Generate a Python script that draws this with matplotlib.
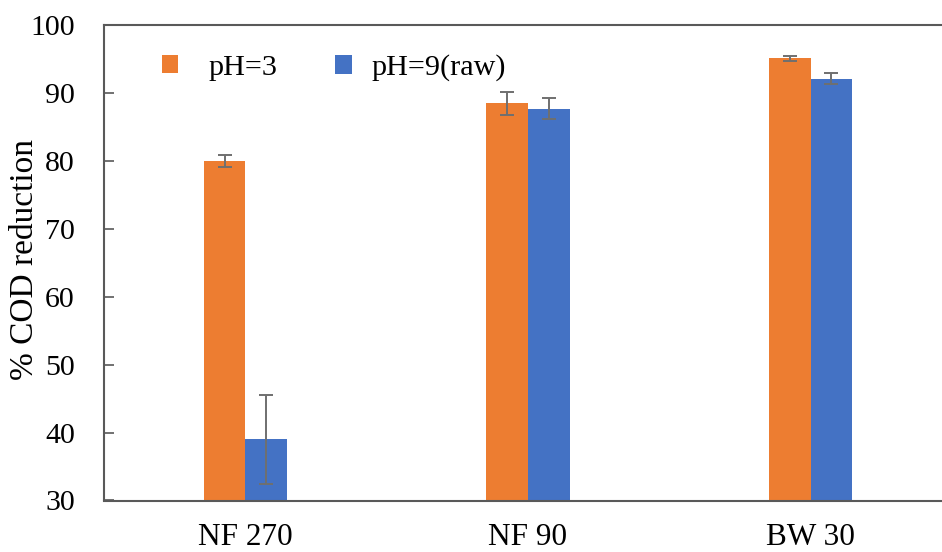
import matplotlib
matplotlib.use("Agg")
import matplotlib.pyplot as plt
import numpy as np

categories = ["NF 270", "NF 90", "BW 30"]
series_names = ["pH=3", "pH=9(raw)"]
ph3_values = [80.0, 88.5, 95.1]
ph3_errors = [0.9, 1.7, 0.4]
ph9_values = [39.0, 87.7, 92.1]
ph9_errors = [6.5, 1.6, 0.8]
y_ticks = [30, 40, 50, 60, 70, 80, 90, 100]

plt.rcParams['font.family'] = ['Liberation Serif', 'DejaVu Serif']

fig = plt.figure(figsize=(9.42, 5.52), dpi=100)
ax = fig.add_axes([104/942, 1-500.5/552, 848/942, (500.5-25)/552])

x = np.arange(len(categories))
w = 0.147
orange = '#ED7D31'
blue = '#4472C4'
ecol = '#6f6f6f'
ekw = dict(ecolor=ecol, elinewidth=1.4, capsize=5, capthick=1.4)
b1 = ax.bar(x - w/2, ph3_values, w, color=orange, label=series_names[0],
            yerr=ph3_errors, error_kw=ekw)
b2 = ax.bar(x + w/2, ph9_values, w, color=blue, label=series_names[1],
            yerr=ph9_errors, error_kw=ekw)

ax.set_xlim(-0.5, 2.5)
ax.set_ylim(30, 100)
ax.set_yticks(y_ticks)
ax.set_xticks(x)
ax.set_xticklabels(categories)
ax.tick_params(axis='y', direction='in', length=7, width=1.2, color='#595959',
               labelsize=21.5, pad=21)
ax.tick_params(axis='x', length=0, labelsize=22.5, pad=16)
for s in ax.spines.values():
    s.set_color('#595959')
    s.set_linewidth(1.5)
fig.text(25/942, 1-259/552, '% COD reduction', fontsize=24, rotation=90,
         ha='center', va='center')

lkw = dict(loc='upper left', frameon=False, fontsize=21.7, handlelength=0.55,
           handleheight=0.55)
leg1 = ax.legend([b1], [series_names[0]], bbox_to_anchor=(0.036, 0.995),
                 handletextpad=1.0, **lkw)
ax.add_artist(leg1)
leg2 = ax.legend([b2], [series_names[1]], bbox_to_anchor=(0.241, 0.995),
                 handletextpad=0.65, **lkw)

fig.savefig('out.png', dpi=100)
